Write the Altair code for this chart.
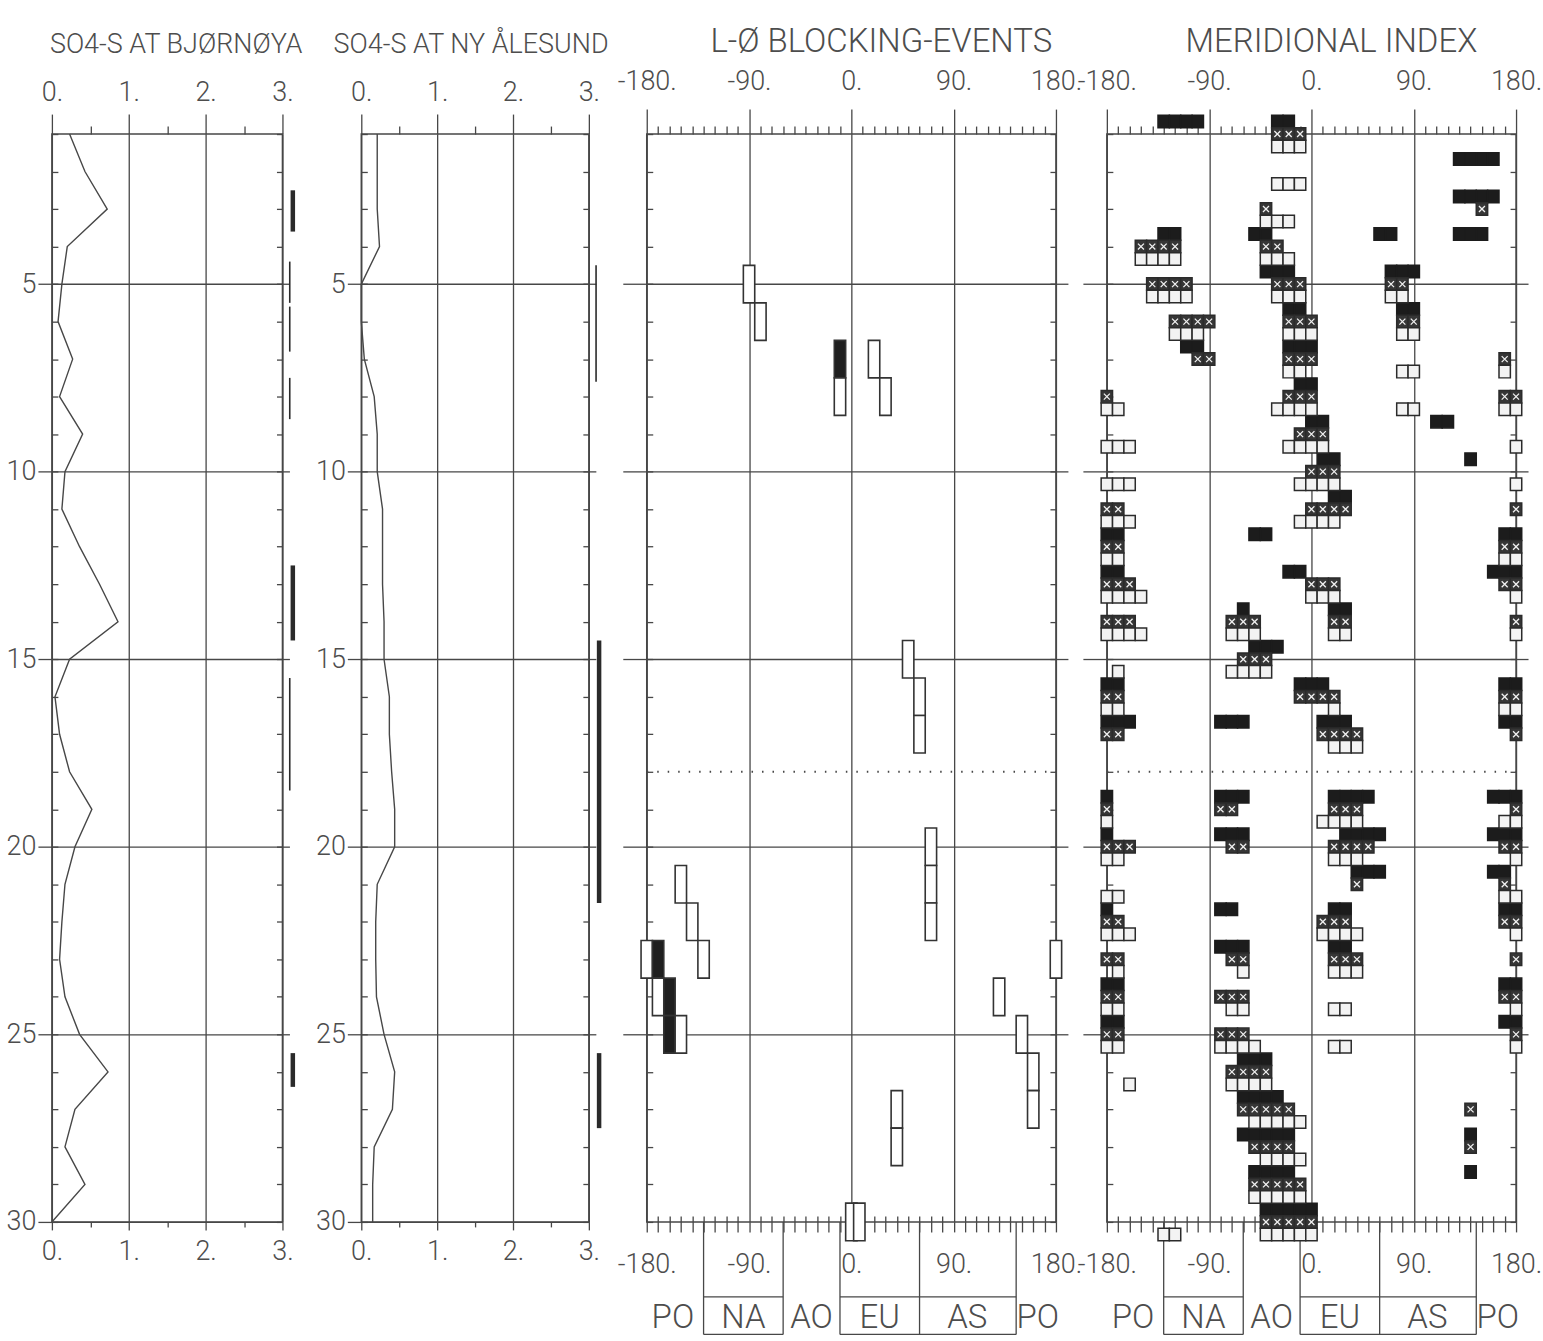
import altair as alt
import pandas as pd

FONT = "Roboto, Liberation Sans, sans-serif"
INK = "#474747"
TXT = "#4d4d4d"

# ---------------- data ----------------
DAYS = list(range(1, 31))
SO4_BJORNOYA = [0.23, 0.43, 0.72, 0.20, 0.13, 0.08, 0.27, 0.10, 0.40, 0.17,
                0.13, 0.36, 0.62, 0.86, 0.23, 0.04, 0.10, 0.23, 0.52, 0.30,
                0.17, 0.13, 0.10, 0.17, 0.36, 0.73, 0.30, 0.17, 0.43, 0.00]
SO4_NY_ALESUND = [0.21, 0.21, 0.21, 0.24, 0.00, 0.00, 0.04, 0.17, 0.21, 0.21,
                  0.28, 0.28, 0.28, 0.30, 0.30, 0.37, 0.37, 0.40, 0.44, 0.44,
                  0.21, 0.19, 0.19, 0.20, 0.30, 0.44, 0.41, 0.17, 0.15, 0.15]

BJ_MARK_START = [2.5, 4.4, 5.6, 7.5, 12.5, 15.5, 25.5]
BJ_MARK_END = [3.6, 5.5, 6.8, 8.6, 14.5, 18.5, 26.4]
BJ_MARK_KIND = ["thick", "thin", "thin", "thin", "thick", "thin", "thick"]
NY_MARK_START = [4.5, 14.5, 25.5]
NY_MARK_END = [7.6, 21.5, 27.5]
NY_MARK_KIND = ["thin", "thick", "thick"]

BLOCK_LON = [-90, -80, -10, -10, 20, 30, 50, 60, 60, 70, 70, 70, -150, -140, -130,
             -180, -170, -170, -160, -160, -150, 180, 130, 150, 160, 160, 40, 40, 0, 7]
BLOCK_DAY = [5, 6, 7, 8, 7, 8, 15, 16, 17, 20, 21, 22, 21, 22, 23,
             23, 23, 24, 24, 25, 25, 23, 24, 25, 26, 27, 27, 28, 30, 30]
BLOCK_KIND = ["open", "open", "filled", "open", "open", "open", "open", "open", "open",
              "open", "open", "open", "open", "open", "open",
              "open", "filled", "open", "filled", "filled", "open", "open", "open",
              "open", "open", "open", "open", "open", "open", "open"]

MI_BLACK = {
    1: [-130, -120, -110, -100, -30, -20],
    2: [130, 140, 150, 160],
    3: [130, 140, 150, 160],
    4: [-130, -120, -50, -40, 60, 70, 130, 140, 150],
    5: [-40, -30, -20, 70, 80, 90],
    6: [-20, -10, 80, 90],
    7: [-110, -100, -20, -10, 0],
    8: [-10, 0],
    9: [0, 10, 110, 120],
    10: [10, 20, 140],
    11: [20, 30],
    12: [-180, -170, -50, -40, 170, 180],
    13: [-180, -170, -20, -10, 160, 170, 180],
    14: [-60, 20, 30],
    15: [-50, -40, -30],
    16: [-180, -170, -10, 0, 10, 170, 180],
    17: [-180, -170, -160, -80, -70, -60, 10, 20, 30, 170, 180],
    19: [-180, -80, -70, -60, 20, 30, 40, 50, 160, 170, 180],
    20: [-180, -80, -70, -60, 30, 40, 50, 60, 160, 170, 180],
    21: [40, 50, 60, 160, 170],
    22: [-180, -80, -70, 20, 30, 170, 180],
    23: [-80, -70, -60, 20, 30],
    24: [-180, -170, 170, 180],
    25: [-180, -170, 170, 180],
    26: [-60, -50, -40],
    27: [-60, -50, -40, -30],
    28: [-60, -50, -40, -30, -20, 140],
    29: [-50, -40, -30, -20, 140],
    30: [-40, -30, -20, -10, 0],
}
MI_CROSS = {
    1: [-30, -20, -10],
    3: [-40, 150],
    4: [-150, -140, -130, -120, -40, -30],
    5: [-140, -130, -120, -110, -30, -20, -10, 70, 80],
    6: [-120, -110, -100, -90, -20, -10, 0, 80, 90],
    7: [-100, -90, -20, -10, 0, 170],
    8: [-180, -20, -10, 0, 170, 180],
    9: [-10, 0, 10],
    10: [0, 10, 20],
    11: [-180, -170, 0, 10, 20, 30, 180],
    12: [-180, -170, 170, 180],
    13: [-180, -170, -160, 0, 10, 20, 170, 180],
    14: [-180, -170, -160, -70, -60, -50, 20, 30, 180],
    15: [-60, -50, -40],
    16: [-180, -170, -10, 0, 10, 20, 170, 180],
    17: [-180, -170, 10, 20, 30, 40, 180],
    19: [-180, -80, -70, 20, 30, 40, 180],
    20: [-180, -170, -160, -70, -60, 20, 30, 40, 50, 170, 180],
    21: [40, 170],
    22: [-180, -170, 10, 20, 30, 170, 180],
    23: [-180, -170, -70, -60, 20, 30, 40, 180],
    24: [-180, -170, -80, -70, -60, 170, 180],
    25: [-180, -170, -80, -70, -60, 180],
    26: [-70, -60, -50, -40],
    27: [-60, -50, -40, -30, -20, 140],
    28: [-50, -40, -30, -20, 140],
    29: [-50, -40, -30, -20, -10],
    30: [-40, -30, -20, -10, 0],
}
MI_OPEN = {
    1: [-30, -20, -10],
    2: [-30, -20, -10],
    3: [-40, -30, -20],
    4: [-150, -140, -130, -120, -40, -30, -20],
    5: [-140, -130, -120, -110, -30, -20, -10, 70, 80],
    6: [-120, -110, -100, -20, -10, 0, 80, 90],
    7: [-20, -10, 80, 90, 170],
    8: [-180, -170, -30, -20, -10, 0, 80, 90, 170, 180],
    9: [-180, -170, -160, -20, -10, 0, 10, 180],
    10: [-180, -170, -160, -10, 0, 10, 20, 180],
    11: [-180, -170, -160, -10, 0, 10, 20],
    12: [-180, -170, 170, 180],
    13: [-180, -170, -160, -150, 0, 10, 20, 180],
    14: [-180, -170, -160, -150, -70, -60, -50, 20, 30, 180],
    15: [-170, -70, -60, -50, -40],
    16: [-180, -170, 20, 170, 180],
    17: [20, 30, 40],
    19: [-180, 10, 20, 30, 40, 170, 180],
    20: [-180, -170, 20, 30, 40, 180],
    21: [-180, -170, 170, 180],
    22: [-180, -170, -160, 10, 20, 30, 40, 180],
    23: [-170, -60, 20, 30, 40],
    24: [-180, -170, -70, -60, 20, 30, 180],
    25: [-180, -170, -80, -70, -60, -50, 20, 30, 180],
    26: [-160, -70, -60, -50, -40],
    27: [-50, -40, -30, -20, -10],
    28: [-40, -30, -20, -10],
    29: [-50, -40, -30, -20, -10],
    30: [-130, -120, -40, -30, -20, -10, 0],
}

REGION_EDGES = [-130, -60, -10, 60, 145]
REGION_BOX_FROM = [-130, -10]
REGION_BOX_TO = [-60, 145]
REGION_NAMES = ["PO", "NA", "AO", "EU", "AS", "PO"]
REGION_NAME_LON = [-157, -95, -35, 25, 102, 164]

LON_MAJOR = [-180, -90, 0, 90, 180]
LON_MINOR = [v for v in range(-170, 180, 10) if v not in (-90, 0, 90)]
SO4_MAJOR = [0, 1, 2, 3]
SO4_MINOR = [0.5, 1.5, 2.5]

# ---------------- helpers ----------------
H = 1090
YS = alt.Scale(domain=[1, 30], reverse=True, nice=False, zero=False)
LBL = "datum.value + '.'"


def axis_layers(xs, xdom, xmaj, xmin, ylabels, ymaj, tick_left, tick_right,
                top_tick, top_lp, bot_tick, bot_lp, bmin_off, bmin_size):
    dummy = pd.DataFrame({"ax": xdom, "ay": [1, 30]})
    base = alt.Chart(dummy).mark_point(opacity=0)
    a = base.encode(
        x=alt.X("ax:Q", scale=xs, axis=alt.Axis(orient="top", values=xmaj, labelExpr=LBL,
                                                 tickSize=top_tick, labelPadding=top_lp,
                                                 labelFlush=False,
                                                 grid=True, domain=False, title=None)),
        y=alt.Y("ay:Q", scale=YS, axis=alt.Axis(orient="left", values=ymaj, labels=ylabels,
                                                 tickSize=tick_left, labelPadding=2,
                                                 labelFlush=False,
                                                 grid=True, domain=False, title=None)))
    b = base.encode(
        x=alt.X("ax:Q", scale=xs, axis=alt.Axis(orient="top", values=xmin, labels=False,
                                                 tickSize=8, grid=False, domain=False, title=None)),
        y=alt.Y("ay:Q", scale=YS, axis=alt.Axis(orient="left", values=DAYS, labels=False,
                                                 tickSize=6, offset=-6, grid=False,
                                                 domain=False, title=None)))
    c = base.encode(
        x=alt.X("ax:Q", scale=xs, axis=alt.Axis(orient="bottom", values=xmaj, labelExpr=LBL,
                                                 tickSize=bot_tick, labelPadding=bot_lp,
                                                 labelFlush=False,
                                                 grid=False, domain=False, title=None)),
        y=alt.Y("ay:Q", scale=YS, axis=alt.Axis(orient="right", values=[5, 10, 15, 20, 25],
                                                 labels=False, tickSize=tick_right,
                                                 grid=False, domain=False, title=None)))
    d = base.encode(
        x=alt.X("ax:Q", scale=xs, axis=alt.Axis(orient="bottom", values=xmin, labels=False,
                                                 tickSize=bmin_size, offset=bmin_off,
                                                 grid=False, domain=False, title=None)),
        y=alt.Y("ay:Q", scale=YS, axis=alt.Axis(orient="right", values=DAYS, labels=False,
                                                 tickSize=6, offset=-6, grid=False,
                                                 domain=False, title=None)))
    return [a, b, c, d]


def so4_panel(values, m_start, m_end, m_kind, title, width, dx):
    xs = alt.Scale(domain=[0, 3], nice=False, zero=False)
    df = pd.DataFrame({"day": DAYS, "so4": values})
    line = alt.Chart(df).mark_line(color=INK, strokeWidth=1.4).encode(
        x=alt.X("so4:Q", scale=xs, axis=None),
        y=alt.Y("day:Q", scale=YS, axis=None),
        order=alt.Order("day:Q"))
    mdf = pd.DataFrame({"s": m_start, "e": m_end, "k": m_kind})
    marks = alt.Chart(mdf).transform_calculate(
        xpos="datum.k == 'thick' ? 3.135 : 3.095",
        sw="datum.k == 'thick' ? 4.5 : 1.6").mark_rule(color="#2a2a2a").encode(
        x=alt.X("xpos:Q", scale=xs, axis=None),
        y=alt.Y("s:Q", scale=YS, axis=None),
        y2="e:Q",
        strokeWidth=alt.StrokeWidth("sw:Q", scale=None, legend=None))
    axes = axis_layers(xs, [0, 3], SO4_MAJOR, SO4_MINOR, True, [5, 10, 15, 20, 25, 30],
                       14, 7, 20, 8, 8, 9, 0, 5)
    return alt.layer(line, marks, *axes).resolve_axis(x="independent", y="independent").properties(
        width=width, height=H,
        title=alt.TitleParams(title, offset=19, dx=dx, fontSize=27))


def region_layers(xs):
    edges = alt.Chart(pd.DataFrame({"lon": REGION_EDGES})).transform_calculate(
        y0="30", y1="33").mark_rule(color=INK, strokeWidth=1.3).encode(
        x=alt.X("lon:Q", scale=xs, axis=None),
        y=alt.Y("y0:Q", scale=YS, axis=None), y2="y1:Q")
    rows = []
    for a, b in zip(REGION_BOX_FROM, REGION_BOX_TO):
        for yy in (32, 33):
            rows.append({"a": a, "b": b, "yy": yy})
    hl = alt.Chart(pd.DataFrame(rows)).mark_rule(color=INK, strokeWidth=1.3).encode(
        x=alt.X("a:Q", scale=xs, axis=None), x2="b:Q",
        y=alt.Y("yy:Q", scale=YS, axis=None))
    txt = alt.Chart(pd.DataFrame({"name": REGION_NAMES, "lon": REGION_NAME_LON})).transform_calculate(
        yy="32.55").mark_text(font=FONT, fontSize=33, fontWeight=300, color=TXT,
                              baseline="middle").encode(
        x=alt.X("lon:Q", scale=xs, axis=None),
        y=alt.Y("yy:Q", scale=YS, axis=None),
        text="name:N")
    dotted = alt.Chart(pd.DataFrame({"d": [18]})).transform_calculate(
        a="-180", b="180").mark_rule(color=INK, strokeWidth=1.8, strokeDash=[1.5, 9]).encode(
        x=alt.X("a:Q", scale=xs, axis=None), x2="b:Q",
        y=alt.Y("d:Q", scale=YS, axis=None))
    return [dotted, edges, hl, txt]


XS_LON = alt.Scale(domain=[-180, 180], nice=False, zero=False)


def lon_axes():
    return axis_layers(XS_LON, [-180, 180], LON_MAJOR, LON_MINOR, False, [5, 10, 15, 20, 25],
                       24, 12, 25, 14, 10, 20, -6, 16)


# ---------------- panel 3 ----------------
bdf = pd.DataFrame({"lon": BLOCK_LON, "day": BLOCK_DAY, "kind": BLOCK_KIND})
blocks = alt.Chart(bdf).transform_calculate(
    x0="datum.lon - 5", x1="datum.lon + 5", y0="datum.day - 0.5", y1="datum.day + 0.5",
    fc="datum.kind == 'filled' ? '#1f1f1f' : '#ffffff'"
).mark_rect(stroke="#333333", strokeWidth=1.6).encode(
    x=alt.X("x0:Q", scale=XS_LON, axis=None), x2="x1:Q",
    y=alt.Y("y0:Q", scale=YS, axis=None), y2="y1:Q",
    fill=alt.Fill("fc:N", scale=None, legend=None))
p3 = alt.layer(*region_layers(XS_LON), blocks, *lon_axes()).resolve_axis(
    x="independent", y="independent").properties(
    width=410, height=H, title=alt.TitleParams("L-Ø BLOCKING-EVENTS", offset=8, dx=30, fontSize=33))

# ---------------- panel 4 ----------------
rows = []
for kind, table in (("black", MI_BLACK), ("cross", MI_CROSS), ("open", MI_OPEN)):
    for day, lons in table.items():
        for lon in lons:
            rows.append({"lon": lon, "day": day, "kind": kind})
mdf = pd.DataFrame(rows)
OFF = "(datum.kind == 'black' ? -0.5 : (datum.kind == 'cross' ? -0.1667 : 0.1667))"
cells = alt.Chart(mdf).transform_calculate(
    x0="datum.lon - 5", x1="datum.lon + 5",
    y0="datum.day + " + OFF, y1="datum.day + " + OFF + " + 0.3333",
    fc="datum.kind == 'black' ? '#1c1c1c' : (datum.kind == 'cross' ? '#363636' : '#f3f3f3')",
    sc="datum.kind == 'black' ? '#1c1c1c' : '#2b2b2b'"
).mark_rect(strokeWidth=1.5).encode(
    x=alt.X("x0:Q", scale=XS_LON, axis=None), x2="x1:Q",
    y=alt.Y("y0:Q", scale=YS, axis=None), y2="y1:Q",
    fill=alt.Fill("fc:N", scale=None, legend=None),
    stroke=alt.Stroke("sc:N", scale=None, legend=None))
crosses = alt.Chart(mdf).transform_filter("datum.kind == 'cross'").mark_point(
    shape="M-1,-1L1,1M-1,1L1,-1", filled=False, stroke="#f0f0f0", strokeWidth=1.3, size=36, opacity=1
).encode(
    x=alt.X("lon:Q", scale=XS_LON, axis=None),
    y=alt.Y("day:Q", scale=YS, axis=None))
p4 = alt.layer(*region_layers(XS_LON), cells, crosses, *lon_axes()).resolve_axis(
    x="independent", y="independent").properties(
    width=410, height=H, title=alt.TitleParams("MERIDIONAL INDEX", offset=8, dx=20, fontSize=33))

# ---------------- panels 1,2 ----------------
p1 = so4_panel(SO4_BJORNOYA, BJ_MARK_START, BJ_MARK_END, BJ_MARK_KIND, "SO4-S AT BJØRNØYA", 231, 9)
p2 = so4_panel(SO4_NY_ALESUND, NY_MARK_START, NY_MARK_END, NY_MARK_KIND, "SO4-S AT NY ÅLESUND", 228, -4)


def spacer(w):
    return alt.Chart(pd.DataFrame({"v": [0]})).mark_point(opacity=0).encode(
        x=alt.X("v:Q", axis=None), y=alt.Y("v:Q", axis=None)).properties(
        width=w, height=H, view=alt.ViewBackground(strokeOpacity=0))


chart = alt.hconcat(p1, spacer(79), p2, spacer(58), p3, spacer(51), p4,
                    spacing=0, bounds="flush").configure(
    background="white", padding={"left": 5, "top": 24, "right": 0, "bottom": 0}
).configure_view(stroke=INK, strokeWidth=1.5).configure_axis(
    labelFont=FONT, labelColor=TXT, labelFontSize=27, labelFontWeight=300,
    tickColor=INK, tickWidth=1.3, gridColor=INK, gridWidth=1.3, gridOpacity=1, domain=False
).configure_title(font=FONT, color=TXT, fontWeight=300, anchor="middle")

chart.save("out.html", embed_options={"renderer": "svg", "actions": False})
